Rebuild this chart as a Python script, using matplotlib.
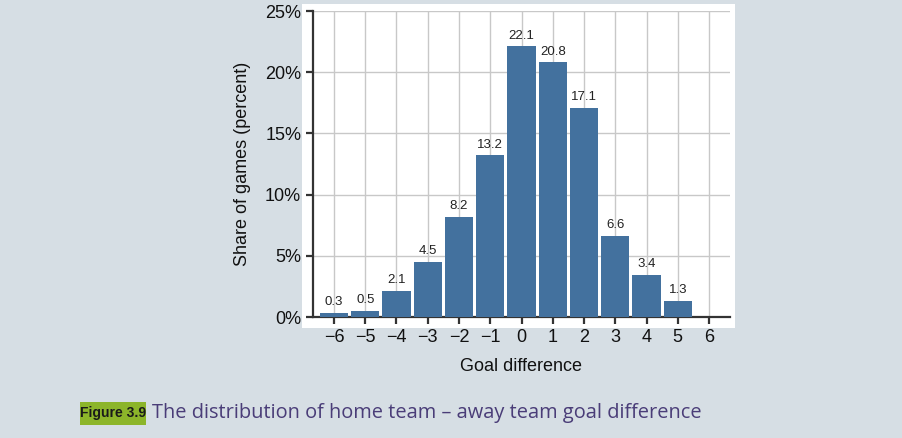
import matplotlib.pyplot as plt
from matplotlib.patches import Rectangle

# goal difference (home - away) and share of games in percent
goal_diff = [-6, -5, -4, -3, -2, -1, 0, 1, 2, 3, 4, 5, 6]
share = [0.3, 0.5, 2.1, 4.5, 8.2, 13.2, 22.1, 20.8, 17.1, 6.6, 3.4, 1.3, 0.0]
bar_labels = ["0.3", "0.5", "2.1", "4.5", "8.2", "13.2", "22.1", "20.8", "17.1", "6.6", "3.4", "1.3", ""]
y_ticks = [0, 5, 10, 15, 20, 25]
y_ticklabels = ["0%", "5%", "10%", "15%", "20%", "25%"]

bg = "#d6dee4"
bar_color = "#43719e"

plt.rcParams["font.family"] = ["Liberation Sans", "DejaVu Sans"]

fig = plt.figure(figsize=(9.03, 4.38), dpi=100, facecolor=bg)
W, H = 903, 438

# white graph region behind the plot
fig.patches.append(Rectangle((302 / W, 1 - 328 / H), 433 / W, 324 / H,
                             transform=fig.transFigure, facecolor="white",
                             edgecolor="none", zorder=-5))

ax = fig.add_axes([313 / W, 1 - 317 / H, 417 / W, 306 / H])
ax.set_facecolor("none")

ax.bar(goal_diff, share, width=0.9, color=bar_color, zorder=3)
for x, v, lab in zip(goal_diff, share, bar_labels):
    if lab:
        ax.text(x, v + 0.4, lab, ha="center", va="bottom", fontsize=9.5,
                color="#222222", zorder=4)

ax.set_xlim(-6.67, 6.67)
ax.set_ylim(0, 25)
ax.set_xticks(goal_diff)
ax.set_xticklabels([str(g).replace("-", "\u2212") for g in goal_diff])
ax.set_yticks(y_ticks)
ax.set_yticklabels(y_ticklabels)

ax.grid(True, color="#c8c8c8", linewidth=1.0, zorder=0)
ax.set_axisbelow(True)

for s in ["top", "right"]:
    ax.spines[s].set_visible(False)
for s in ["left", "bottom"]:
    ax.spines[s].set_color("#333333")
    ax.spines[s].set_linewidth(1.6)

ax.tick_params(axis="both", labelsize=13, color="#333333", width=1.6,
               length=5, labelcolor="#111111")
ax.tick_params(axis="x", pad=4)

ax.set_xlabel("Goal difference", fontsize=13, color="#111111", labelpad=8)
ax.set_ylabel("Share of games (percent)", fontsize=13, color="#111111", labelpad=10)

# caption
fig.patches.append(Rectangle((80 / W, 1 - 425 / H), 66 / W, 23 / H,
                             transform=fig.transFigure, facecolor="#8cb52a",
                             edgecolor="none"))
fig.text(113 / W, 1 - 413 / H, "Figure 3.9", ha="center", va="center",
         fontsize=10, fontweight="bold", color="#1a1a1a")
fig.text(152 / W, 1 - 413 / H, "The distribution of home team \u2013 away team goal difference",
         ha="left", va="center", fontsize=14.4, color="#4a3d78",
         family=["Open Sans", "DejaVu Sans"])

fig.savefig("out.png", dpi=100, facecolor=bg)
